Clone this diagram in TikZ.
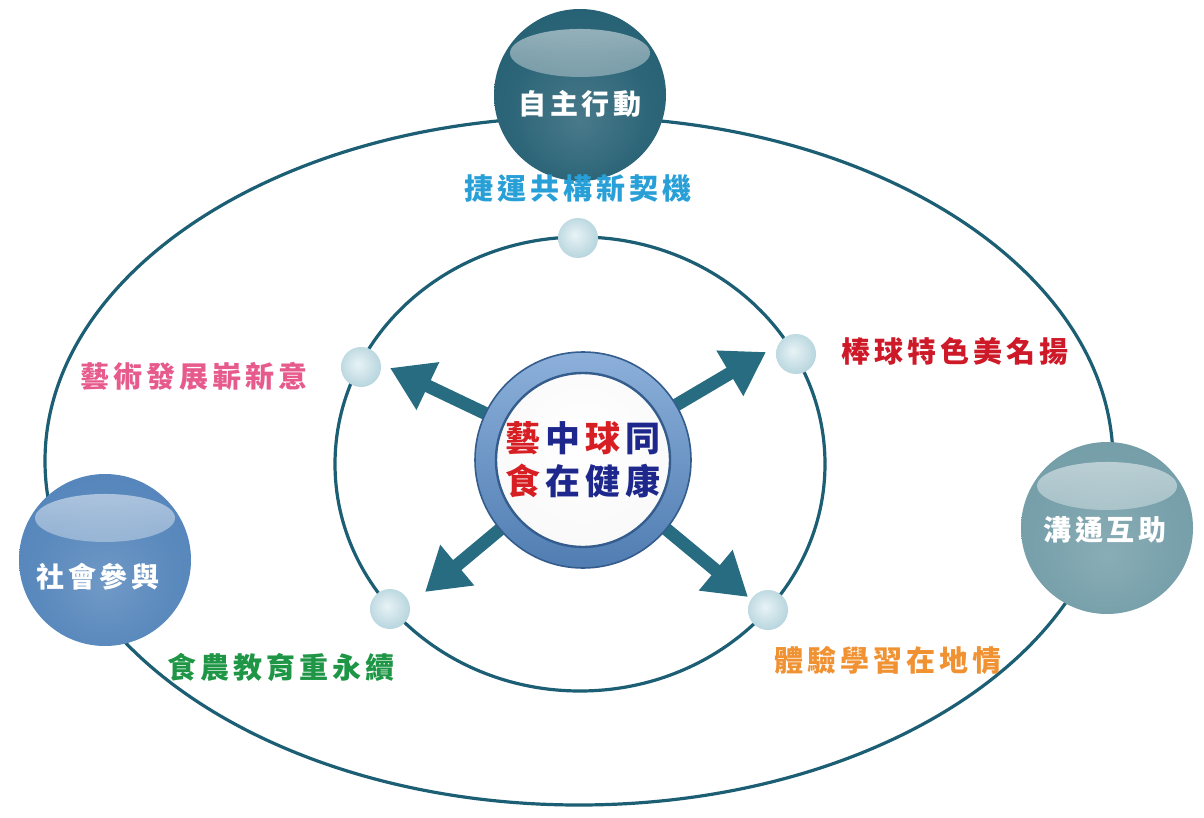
\documentclass[tikz,border=0pt]{standalone}
\usepackage{fontspec}
\newfontfamily\cjk{Noto Sans CJK TC}[LetterSpace=14]
\newfontfamily\cjkc{Noto Sans CJK TC}
\newcommand\csp{\hspace{2.6pt}}
\usetikzlibrary{arrows.meta,fadings}
\definecolor{linecol}{RGB}{28,94,115}
\definecolor{arrowcol}{RGB}{40,108,130}
\definecolor{topball}{RGB}{32,92,112}
\definecolor{leftball}{RGB}{80,130,185}
\definecolor{rightball}{RGB}{112,155,166}
\definecolor{sb1}{RGB}{232,243,246}
\definecolor{sb2}{RGB}{178,210,219}
\definecolor{sb3}{RGB}{150,190,202}
\definecolor{ringtop}{RGB}{140,176,218}
\definecolor{ringbot}{RGB}{80,125,178}
\definecolor{ringedge}{RGB}{52,92,140}
\definecolor{cA}{RGB}{40,160,215}
\definecolor{cB}{RGB}{230,90,140}
\definecolor{cC}{RGB}{205,25,40}
\definecolor{cD}{RGB}{30,150,70}
\definecolor{cE}{RGB}{240,145,50}
\definecolor{cred}{RGB}{215,30,35}
\definecolor{cblue}{RGB}{30,40,140}
\colorlet{bc}{topball}
\pgfdeclareradialshading[bc]{glossball}{\pgfpoint{0bp}{-8bp}}{color(0bp)=(bc!82!white); color(20bp)=(bc!94!white); color(38bp)=(bc); color(50bp)=(bc!80!black)}
\pgfdeclareradialshading{smallball}{\pgfpoint{-4bp}{4bp}}{color(0bp)=(sb1); color(30bp)=(sb2); color(50bp)=(sb3)}
\pgfdeclareradialshading{innerwhite}{\pgfpoint{0bp}{6bp}}{color(0bp)=(white); color(30bp)=(white!95!gray); color(50bp)=(white!78!gray)}
\tikzfading[name=hlfade, top color=transparent!25, bottom color=transparent!100]
\begin{document}
\begin{tikzpicture}[x=0.5pt,y=-0.5pt,
  ringline/.style={draw=linecol, line width=1.6pt},
  smallball/.style={circle, inner sep=0pt, minimum size=20pt, shading=smallball},
  bigball/.style={circle, inner sep=0pt, minimum size=86pt, shading=glossball,
    path picture={\fill[white, path fading=hlfade, fill opacity=0.75]
      ([yshift=21pt]path picture bounding box.center) ellipse [x radius=35pt, y radius=12pt];}},
  balltext/.style={text=white, font=\cjk\bfseries\fontsize{14}{16}\selectfont, inner sep=1pt},
  lab/.style={font=\cjk\bfseries\fontsize{14.5}{16}\selectfont, inner sep=1pt},
  bigarrow/.style={draw=arrowcol, line width=6.5pt, -{Triangle[length=21pt,width=25pt]}}
]
\useasboundingbox[fill=white] (0,0) rectangle (1204,818);
% orbits
\coordinate (oc) at (579,461);
\draw[ringline] (oc) ellipse [x radius=267pt, y radius=172pt];
\coordinate (ic) at (580,464);
\draw[ringline] (ic) ellipse [x radius=122.5pt, y radius=113.5pt];
% small balls on inner orbit
\node[smallball] (sT) at (578,238) {};
\node[smallball] (sL) at (361,367) {};
\node[smallball] (sR) at (796,354) {};
\node[smallball] (sBL) at (390,609) {};
\node[smallball] (sBR) at (768,610) {};
% arrows
\coordinate (c) at (583,460);
\coordinate (tNW) at (390,368);
\coordinate (tNE) at (766,352);
\coordinate (tSW) at (425,592);
\coordinate (tSE) at (748,597);
\draw[bigarrow] (c) -- (tNW);
\draw[bigarrow] (c) -- (tNE);
\draw[bigarrow] (c) -- (tSW);
\draw[bigarrow] (c) -- (tSE);
% center
\node[circle, inner sep=0pt, minimum size=108pt, top color=ringtop, bottom color=ringbot,
      draw=ringedge, line width=0.8pt] (cring) at (c) {};
\node[circle, inner sep=0pt, minimum size=87pt, shading=innerwhite, draw=ringedge, line width=1.2pt,
      align=center, font=\cjkc\bfseries\fontsize{17.5}{21.5}\selectfont] (cin) at (c)
  {{\color{cred}藝}\csp{\color{cblue}中}\csp{\color{cred}球}\csp{\color{cblue}同}\\{\color{cred}食}\csp{\color{cblue}在\csp 健\csp 康}};
% big balls
\node[bigball] (top) at (580,95) {};
\node[bigball, /utils/exec={\colorlet{bc}{leftball}}] (left) at (105,560) {};
\node[bigball, /utils/exec={\colorlet{bc}{rightball}}] (right) at (1107,528) {};
\node[balltext] (topt) at (580,104) {自主行動};
\node[balltext] (leftt) at (98,577) {社會參與};
\node[balltext] (rightt) at (1105,530) {溝通互助};
% labels
\node[lab, text=cA] (l1) at (578,188) {捷運共構新契機};
\node[lab, text=cB] (l2) at (194,376) {藝術發展嶄新意};
\node[lab, text=cC] (l3) at (955,351) {棒球特色美名揚};
\node[lab, text=cD] (l4) at (281,667) {食農教育重永續};
\node[lab, text=cE] (l5) at (888,660) {體驗學習在地情};
\end{tikzpicture}
\end{document}
